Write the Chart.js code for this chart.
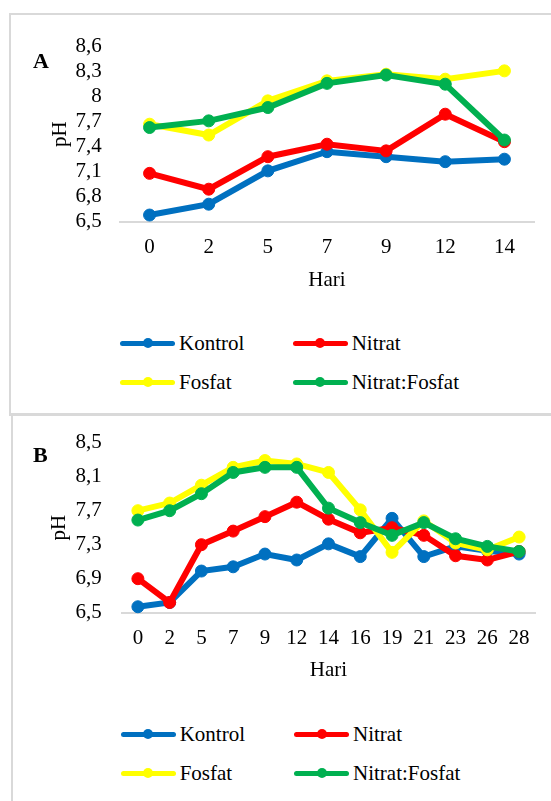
<!DOCTYPE html>
<html><head><meta charset="utf-8">
<script src="https://cdn.jsdelivr.net/npm/chart.js@4.4.1/dist/chart.umd.min.js"></script>
<style>
html,body{margin:0;padding:0;width:551px;height:801px;overflow:hidden;background:#fff;font-family:'Liberation Serif','Times New Roman',serif;}
.box{position:absolute;border:2px solid #d9d9d9;box-sizing:border-box;}
canvas{position:absolute;left:0;}
.panel{position:absolute;font-weight:bold;font-size:22px;line-height:22px;color:#000;}
.leg{position:absolute;height:22px;font-size:21px;line-height:22px;color:#000;white-space:nowrap;}
.leg .ln{position:absolute;left:0;top:8.5px;width:55px;height:5px;border-radius:2.5px;}
.leg .dot{position:absolute;left:22.5px;top:6px;width:10px;height:10px;border-radius:50%;}
.leg .tx{position:absolute;left:59px;top:0;}
</style>
</head><body>
<div class="box" style="left:9px;top:13px;width:600px;height:403px;"></div>
<div class="box" style="left:11px;top:413px;width:600px;height:500px;"></div>
<canvas id="cA" width="551" height="300" style="top:0;width:551px;height:300px;"></canvas>
<canvas id="cB" width="551" height="300" style="top:400px;width:551px;height:300px;"></canvas>
<div class="panel" style="left:33px;top:50px;">A</div>
<div class="panel" style="left:33px;top:444px;">B</div>
<div id="legA"></div>
<div id="legB"></div>
<script>
// ---- Data: Chart A ----
const daysA = ['0','2','5','7','9','12','14'];
const kontrolA = [6.58, 6.71, 7.11, 7.34, 7.28, 7.22, 7.25];
const nitratA  = [7.08, 6.89, 7.28, 7.43, 7.35, 7.79, 7.46];
const fosfatA  = [7.67, 7.54, 7.95, 8.19, 8.27, 8.21, 8.31];
const nfA      = [7.63, 7.71, 7.87, 8.16, 8.26, 8.15, 7.48];
const yTicksA  = [6.5, 6.8, 7.1, 7.4, 7.7, 8.0, 8.3, 8.6];

// ---- Data: Chart B ----
const daysB = ['0','2','5','7','9','12','14','16','19','21','23','26','28'];
const kontrolB = [6.57, 6.62, 6.99, 7.04, 7.19, 7.12, 7.31, 7.16, 7.61, 7.16, 7.28, 7.23, 7.19];
const nitratB  = [6.90, 6.62, 7.30, 7.46, 7.63, 7.80, 7.60, 7.44, 7.50, 7.41, 7.17, 7.12, 7.22];
const fosfatB  = [7.70, 7.79, 8.00, 8.21, 8.29, 8.25, 8.15, 7.71, 7.21, 7.58, 7.32, 7.24, 7.39];
const nfB      = [7.59, 7.70, 7.90, 8.15, 8.21, 8.21, 7.73, 7.56, 7.41, 7.56, 7.37, 7.28, 7.22];
const yTicksB  = [6.5, 6.9, 7.3, 7.7, 8.1, 8.5];

const seriesNames = ['Kontrol', 'Nitrat', 'Fosfat', 'Nitrat:Fosfat'];
const seriesColors = ['#0070C0', '#FF0000', '#FFFF00', '#00B050'];

Chart.defaults.font.family = "'Liberation Serif','Times New Roman',serif";
Chart.defaults.font.size = 21;
Chart.defaults.color = '#000';

function fmt(v){ return String(Math.round(v*10)/10).replace('.', ','); }

function makeChart(id, labels, dataArr, yTicks, g){
  return new Chart(document.getElementById(id), {
    type: 'line',
    data: {
      labels: labels,
      datasets: dataArr.map((d, i) => ({
        label: seriesNames[i],
        data: d,
        borderColor: seriesColors[i],
        backgroundColor: seriesColors[i],
        pointBackgroundColor: seriesColors[i],
        pointBorderColor: seriesColors[i],
        borderWidth: 6,
        pointRadius: 6,
        pointBorderWidth: 1,
        pointHoverRadius: 6,
        tension: 0,
        fill: false,
        order: 4 - i,
        clip: false
      }))
    },
    options: {
      responsive: false,
      animation: false,
      events: [],
      layout: { padding: { top: g.top, right: g.right, bottom: 0, left: 0 } },
      plugins: { legend: { display: false }, tooltip: { enabled: false } },
      scales: {
        x: {
          type: 'category',
          offset: true,
          grid: { display: false, drawTicks: false },
          border: { display: true, color: '#d9d9d9', width: 2 },
          ticks: { padding: g.xtp, maxRotation: 0, autoSkip: false, color: '#000' },
          title: { display: true, text: 'Hari', color: '#000', padding: { top: 0, bottom: g.xtitle } },
          afterFit: s => { s.height = g.xh; }
        },
        y: {
          min: yTicks[0],
          max: yTicks[yTicks.length - 1],
          grid: { display: false, drawTicks: false },
          border: { display: false },
          afterBuildTicks: s => { s.ticks = yTicks.map(v => ({ value: v })); },
          ticks: { padding: g.ytp, color: '#000', autoSkip: false, callback: v => fmt(v) },
          title: { display: true, text: 'pH', color: '#000', padding: { top: g.ytitle, bottom: 0 } },
          afterFit: s => { s.width = g.yw; }
        }
      }
    }
  });
}

makeChart('cA', daysA, [kontrolA, nitratA, fosfatA, nfA], yTicksA,
  { top: 46.7, right: 17, xh: 78.3, xtp: 13.4, xtitle: 7.4, yw: 120, ytp: 18.3, ytitle: 47.4 });
makeChart('cB', daysB, [kontrolB, nitratB, fosfatB, nfB], yTicksB,
  { top: 42.7, right: 16, xh: 87.3, xtp: 13, xtitle: 17.4, yw: 122, ytp: 20.3, ytitle: 46.4 });

function legend(containerId, cols, rows){
  const c = document.getElementById(containerId);
  seriesNames.forEach((name, i) => {
    const col = i % 2, row = Math.floor(i / 2);
    const d = document.createElement('div');
    d.className = 'leg';
    d.style.left = cols[col] + 'px';
    d.style.top = (rows[row] - 11) + 'px';
    d.innerHTML = '<div class="ln" style="background:' + seriesColors[i] + '"></div>' +
                  '<div class="dot" style="background:' + seriesColors[i] + '"></div>' +
                  '<span class="tx">' + name + '</span>';
    c.appendChild(d);
  });
}
legend('legA', [120, 292.7], [343.3, 382.3]);
legend('legB', [120.7, 294], [734.3, 773.3]);
</script>
</body></html>
